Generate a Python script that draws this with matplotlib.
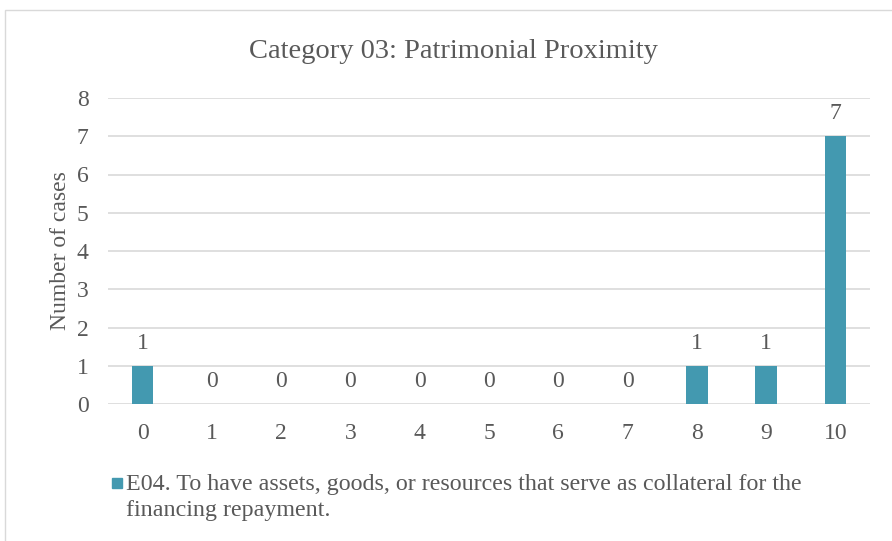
import matplotlib
matplotlib.use("Agg")
import matplotlib.pyplot as plt
from matplotlib.patches import Rectangle

categories = ["0", "1", "2", "3", "4", "5", "6", "7", "8", "9", "10"]
values = [1, 0, 0, 0, 0, 0, 0, 0, 1, 1, 7]
yticks = [0, 1, 2, 3, 4, 5, 6, 7, 8]
title = "Category 03: Patrimonial Proximity"
ylabel = "Number of cases"
legend_lines = ["E04. To have assets, goods, or resources that serve as collateral for the",
                "financing repayment."]

W, H = 892, 541
plt.rcParams['font.family'] = ['Liberation Serif', 'DejaVu Serif']
txt = '#595959'
bar_color = '#4399B0'
FS = 17

fig = plt.figure(figsize=(W/100, H/100), dpi=100)
# outer chart frame
fig.patches.append(Rectangle((5/W, -0.1), 1.2, (H-10)/H + 0.1, transform=fig.transFigure,
                             fill=False, edgecolor='#D9D9D9', linewidth=1.0))

ax = fig.add_axes([108/W, 1-404/H, (870-108)/W, (404-98)/H])
x = list(range(len(categories)))
ax.bar(x, values, width=0.31, color=bar_color, zorder=3, label=" ".join(legend_lines))
ax.set_xlim(-0.5, len(categories)-0.5)
ax.set_ylim(0, 8)
ax.set_yticks(yticks)
ax.set_xticks(x)
ax.set_xticklabels(categories)
ax.yaxis.grid(True, color='#D9D9D9', linewidth=1.2, zorder=0)
for s in ax.spines.values():
    s.set_visible(False)
ax.tick_params(length=0, labelsize=FS, colors=txt)
ax.tick_params(axis='x', pad=14)
ax.tick_params(axis='y', pad=14)
for xi, v in zip(x, values):
    ax.annotate(str(v), (xi, v), xytext=(0, 8.5), textcoords='offset points',
                ha='center', va='bottom', fontsize=FS, color=txt)
ax.set_ylabel(ylabel, fontsize=FS, color=txt, labelpad=4)

fig.text(453/W, 1-48/H, title, ha='center', va='center_baseline', fontsize=20.5, color=txt)

# legend
fig.patches.append(Rectangle((112/W, 1-488/H), 10/W, 10/H, transform=fig.transFigure,
                             color=bar_color))
fig.text(126/W, 1-490/H, legend_lines[0], ha='left', va='baseline', fontsize=17.3, color=txt)
fig.text(126/W, 1-516/H, legend_lines[1], ha='left', va='baseline', fontsize=17.3, color=txt)

fig.savefig("out.png", dpi=100)
